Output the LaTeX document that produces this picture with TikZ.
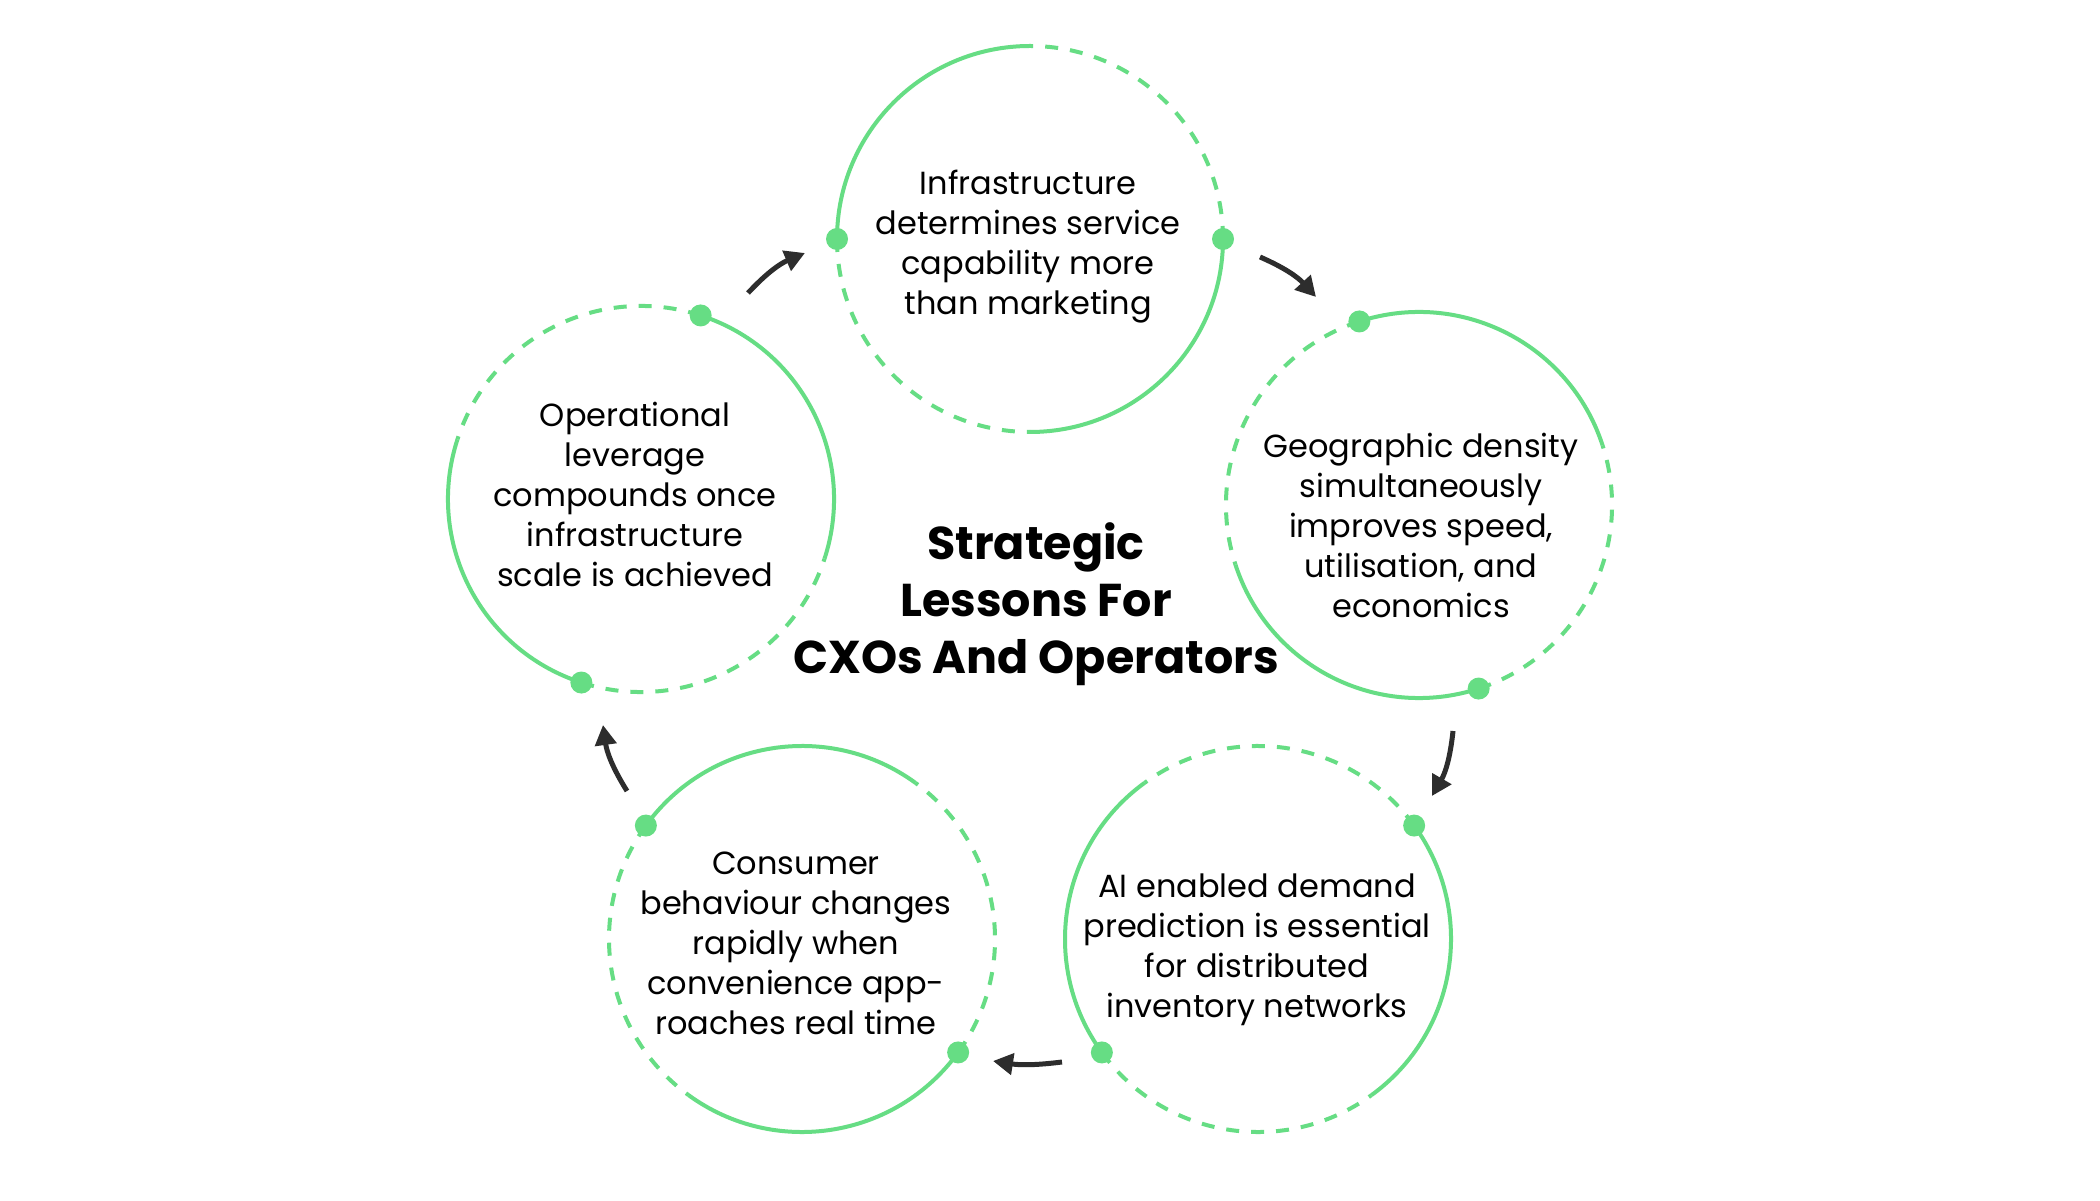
\documentclass[tikz,border=0pt]{standalone}
\usepackage{fontspec}
\setmainfont{Poppins}
\usetikzlibrary{arrows.meta}
\definecolor{lgreen}{RGB}{102,221,132}
\definecolor{arrowgray}{RGB}{45,45,45}
\tikzset{
  ring/.style={circle, draw=none, minimum size=386pt, inner sep=0pt},
  lesson/.style={align=center, text=black, inner sep=0pt, font={\fontsize{32}{40}\selectfont}},
  titletext/.style={align=center, text=black, inner sep=0pt, font={\fontsize{46}{57}\selectfont\bfseries}},
  solidarc/.style={draw=lgreen, line width=4pt},
  dasharc/.style={draw=lgreen, line width=4pt, dash pattern=on 13pt off 12pt},
  dotmark/.style={fill=lgreen},
  flow/.style={draw=arrowgray, line width=5pt, -{Triangle[length=20pt,width=21pt]}},
}
\newcommand\ringdeco[2]{%
  \draw[solidarc] (#1.center) ++({#2+90}:193) arc[start angle={#2+90}, end angle={#2+180}, radius=193];
  \draw[solidarc] (#1.center) ++({#2+270}:193) arc[start angle={#2+270}, end angle={#2+360}, radius=193];
  \draw[dasharc] (#1.center) ++({#2}:193) arc[start angle={#2}, end angle={#2+90}, radius=193];
  \draw[dasharc] (#1.center) ++({#2+180}:193) arc[start angle={#2+180}, end angle={#2+270}, radius=193];
  \fill[dotmark] (#1.center) ++({#2}:193) circle[radius=11];
  \fill[dotmark] (#1.center) ++({#2+180}:193) circle[radius=11];
}
\begin{document}
\begin{tikzpicture}[x=1pt,y=1pt]
  \fill[white] (0,0) rectangle (2100,1200);
  \useasboundingbox (0,0) rectangle (2100,1200);

  % rings
  \node[ring] (ringT)  at (1030,961) {};
  \node[ring] (ringR)  at (1419,695) {};
  \node[ring] (ringBR) at (1258,261) {};
  \node[ring] (ringBL) at (802,261) {};
  \node[ring] (ringL)  at (641,701) {};

  \ringdeco{ringT}{0}
  \ringdeco{ringR}{-72}
  \ringdeco{ringBR}{-144}
  \ringdeco{ringBL}{144}
  \ringdeco{ringL}{72}

  % texts
  \node[lesson] (txtT)  at (1028,953) {Infrastructure\\determines service\\capability more\\than marketing};
  \node[lesson] (txtR)  at (1421,675) {Geographic density\\simultaneously\\improves speed,\\utilisation, and\\economics};
  \node[lesson] (txtBR) at (1257,250) {AI enabled demand\\prediction is essential\\for distributed\\inventory networks};
  \node[lesson] (txtBL) at (796,257) {Consumer\\behaviour changes\\rapidly when\\convenience app-\\roaches real time};
  \node[lesson] (txtL)  at (635,706) {Operational\\leverage\\compounds once\\infrastructure\\scale is achieved};

  \node[titletext] (title) at (1036,596) {Strategic\\Lessons For\\CXOs And Operators};

  % arrows
  \coordinate (a1s) at (748,907);  \coordinate (a1e) at (805,947);
  \coordinate (a2s) at (1260,943); \coordinate (a2e) at (1316,903);
  \coordinate (a3s) at (1453,469); \coordinate (a3e) at (1432,404);
  \coordinate (a4s) at (1062,138); \coordinate (a4e) at (993,139);
  \coordinate (a5s) at (627,409);  \coordinate (a5e) at (603,475);
  \draw[flow] (a1s) to[bend left=12] (a1e);
  \draw[flow] (a2s) to[bend left=12] (a2e);
  \draw[flow] (a3s) to[bend left=12] (a3e);
  \draw[flow] (a4s) to[bend left=8] (a4e);
  \draw[flow] (a5s) to[bend left=12] (a5e);
\end{tikzpicture}
\end{document}
